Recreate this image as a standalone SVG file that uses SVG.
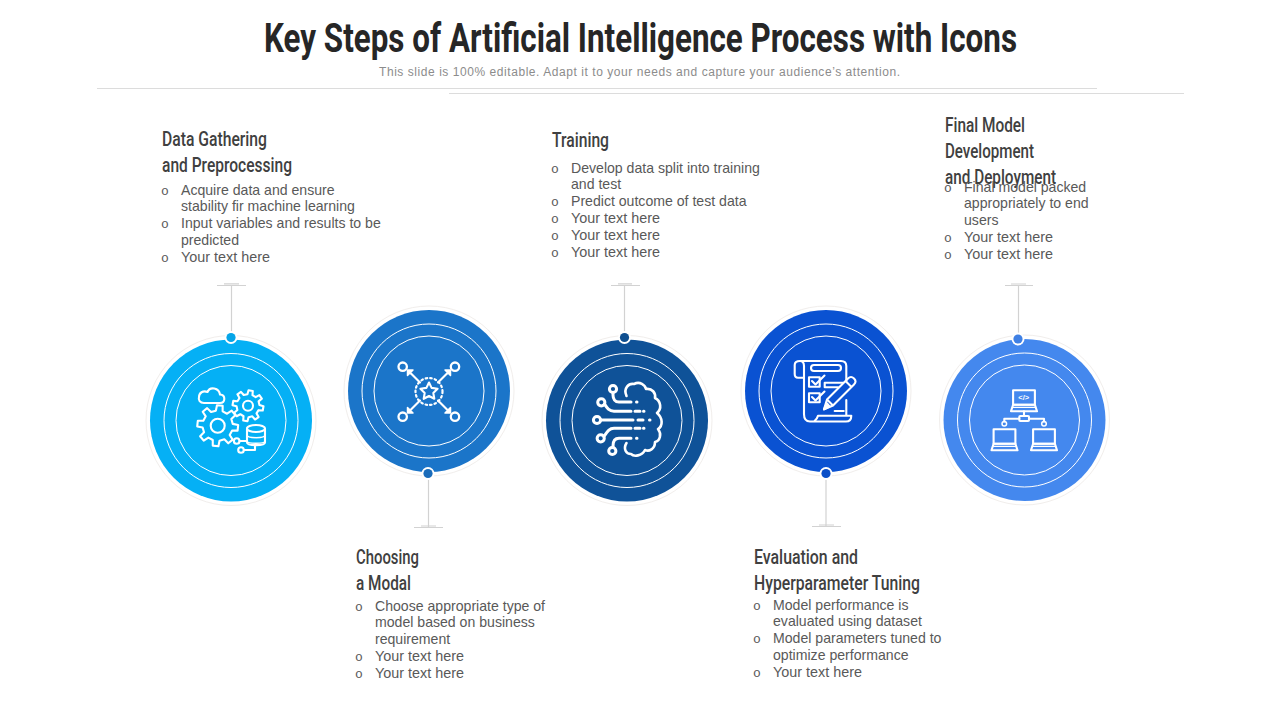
<svg xmlns="http://www.w3.org/2000/svg" width="1280" height="720" viewBox="0 0 1280 720">
<style>
text{font-family:"Liberation Sans",Arial,sans-serif}
.title{font-family:"Roboto","Liberation Sans",sans-serif;font-weight:700;font-size:41px;fill:#262626}
.sub{font-size:12px;fill:#8c8c8c}
.h{font-family:"Roboto","Liberation Sans",sans-serif;font-weight:500;font-size:20px;fill:#404040}
.b{font-size:14.1px;fill:#595959}
.y{font-size:14.4px;fill:#595959}
.o{font-family:"Liberation Mono",monospace;font-size:13px;fill:#595959}
.halo{fill:#fff;stroke:#f1eeec;stroke-width:1}
.ring{fill:none;stroke:#fff;stroke-width:1}
.ic{fill:none;stroke:#fff;stroke-width:2.100;stroke-linejoin:round;stroke-linecap:round}
.ic3{fill:none;stroke:#fff;stroke-width:3;stroke-linejoin:round;stroke-linecap:round}
.rule{stroke:#dcdcdc;stroke-width:1.200;fill:none}
.con{stroke:#d2d2d2;stroke-width:1.200;fill:none}
.dothalo{fill:#fff}
</style>
<defs>
<polygon id="gear" vector-effect="non-scaling-stroke" points=".721,-.166 .99,-.139 .99,.139 .721,.166 .628,.392 .799,.602 .602,.799 .392,.628 .166,.721 .139,.99 -.139,.99 -.166,.721 -.392,.628 -.602,.799 -.799,.602 -.628,.392 -.721,.166 -.99,.139 -.99,-.139 -.721,-.166 -.628,-.392 -.799,-.602 -.602,-.799 -.392,-.628 -.166,-.721 -.139,-.99 .139,-.99 .166,-.721 .392,-.628 .602,-.799 .799,-.602 .628,-.392"/>
<g id="laptop"><path d="M1.600 0H23.400V14.400H1.600Z"/><path d="M1.600 14.400H23.400L25.500 21H-.5Z"/><path d="M1.600 17H23.400" stroke-width="1.200"/></g>
<g id="arr"><path d="M0 0L-9 -9"/><path d="M-7 -12.500L-12.500 -12.500L-12.500 -7Z" fill="#fff" stroke-width="1.500"/></g>
</defs>

<rect width="1280" height="720" fill="#fff"/>

<g id="header">
<text class="title" x="264" y="52" textLength="753" lengthAdjust="spacingAndGlyphs">Key Steps of Artificial Intelligence Process with Icons</text>
<text class="sub" x="379" y="76" textLength="521" lengthAdjust="spacing">This slide is 100% editable. Adapt it to your needs and capture your audience’s attention.</text>
<path class="rule" d="M97 88.500H1097M449 93.500H1184"/>
</g>

<g id="connectors">
<path class="con" d="M231.500 285V334M217 285.500H246M224 283.800H239"/>
<path class="con" d="M428.500 478V527M414 527.500H443M421 526H436"/>
<path class="con" d="M624.500 285V334M611 285.500H640M618 283.800H632"/>
<path class="con" d="M826 478V526M812 526.500H841M819 525H834"/>
<path class="con" d="M1018.500 285V335M1005 285.500H1033M1011 284H1026"/>
</g>

<g id="node1">
<circle class="halo" cx="231" cy="420.500" r="85"/>
<circle cx="231" cy="420.500" r="81" fill="#05b0f5"/>
<circle class="ring" cx="231" cy="420.500" r="67"/><circle class="ring" cx="231" cy="420.500" r="55"/>
<circle class="dothalo" cx="231" cy="337.500" r="6.500"/><circle cx="231" cy="337.500" r="4.600" fill="#05a5e8"/>
<g class="ic">
<path d="M204 403H220C225.500 403 226 395 220 394.500C219 388 210 386 207.500 392C203 390 199 393 199 397C198 400 200 403 204 403Z"/>
<use href="#gear" transform="translate(217.700 425.700) scale(20.500) rotate(6)"/>
<circle cx="217.700" cy="425.700" r="7"/>
<use href="#gear" transform="translate(248 405.700) scale(15.500) rotate(10)"/>
<circle cx="248" cy="405.700" r="5"/>
<path d="M247 428.500V442.500C247 446 265 446 265 442.500V428.500"/>
<ellipse cx="256" cy="428.500" rx="9" ry="3.500"/>
<path d="M247 435C247 438.500 265 438.500 265 435M247 441C247 444 265 444 265 441" stroke-width="1.500"/>
<circle cx="236.700" cy="441" r="2.800"/><circle cx="241" cy="450" r="2.800"/>
<path d="M239.500 441H247M243.800 450H255V445.500"/>
</g>
<text class="h" x="162" y="146" textLength="105" lengthAdjust="spacingAndGlyphs">Data Gathering</text>
<text class="h" x="162" y="172" textLength="130" lengthAdjust="spacingAndGlyphs">and Preprocessing</text>
<text class="o" x="161" y="195">o</text><text class="b" x="181" y="195">Acquire data and ensure</text>
<text class="b" x="181" y="211">stability fir machine learning</text>
<text class="o" x="161" y="228">o</text><text class="b" x="181" y="228">Input variables and results to be</text>
<text class="b" x="181" y="245">predicted</text>
<text class="o" x="161" y="262">o</text><text class="y" x="181" y="262">Your text here</text>
</g>

<g id="node2">
<circle class="halo" cx="429" cy="391" r="85"/>
<circle cx="429" cy="391" r="81" fill="#1b75c9"/>
<circle class="ring" cx="429" cy="391" r="67"/><circle class="ring" cx="429" cy="391" r="55"/>
<circle class="dothalo" cx="428" cy="473.500" r="6.500"/><circle cx="428" cy="473.500" r="4.600" fill="#1a6cba"/>
<g class="ic">
<circle cx="429" cy="391.500" r="13.500" stroke-dasharray="1.600 3" stroke-width="2.200"/>
<path d="M429 382.500L431.600 387.900L437.600 388.700L433.300 392.900L434.300 398.800L429 396L423.700 398.800L424.700 392.900L420.400 388.700L426.400 387.900Z"/>
<circle cx="402.700" cy="366.700" r="4.200" stroke-width="2.300"/><circle cx="455" cy="366.700" r="4.200" stroke-width="2.300"/>
<circle cx="402.700" cy="416.700" r="4.200" stroke-width="2.300"/><circle cx="455" cy="416.700" r="4.200" stroke-width="2.300"/>
<use href="#arr" transform="translate(420 382.500)"/>
<use href="#arr" transform="translate(438 382.500) rotate(90)"/>
<use href="#arr" transform="translate(438 400.500) rotate(180)"/>
<use href="#arr" transform="translate(420 400.500) rotate(270)"/>
</g>
<text class="h" x="356" y="564" textLength="63" lengthAdjust="spacingAndGlyphs">Choosing</text>
<text class="h" x="356" y="590" textLength="55" lengthAdjust="spacingAndGlyphs">a Modal</text>
<text class="o" x="355" y="611">o</text><text class="b" x="375" y="611">Choose appropriate type of</text>
<text class="b" x="375" y="627">model based on business</text>
<text class="b" x="375" y="644">requirement</text>
<text class="o" x="355" y="661">o</text><text class="y" x="375" y="661">Your text here</text>
<text class="o" x="355" y="678">o</text><text class="y" x="375" y="678">Your text here</text>
</g>

<g id="node3">
<circle class="halo" cx="627" cy="420.500" r="85"/>
<circle cx="627" cy="420.500" r="81" fill="#0f5298"/>
<circle class="ring" cx="627" cy="420.500" r="67"/><circle class="ring" cx="627" cy="420.500" r="55"/>
<circle class="dothalo" cx="624.500" cy="337.500" r="6.500"/><circle cx="624.500" cy="337.500" r="4.600" fill="#0f4f90"/>
<g class="ic3">
<circle cx="613" cy="389" r="3.600"/><circle cx="601.300" cy="402.300" r="3.600"/><circle cx="597" cy="420" r="3.600"/><circle cx="600.700" cy="438.300" r="3.600"/><circle cx="612.300" cy="451" r="3.600"/>
<path d="M613 392.600V395C613 399 615 402 619 402H631"/>
<path d="M604.500 404C607 408 609 411.300 614 411.300H631M635 411.300H640M643.500 411.300H644"/>
<path d="M600.600 420H633M638 420H643M649.500 420H650"/>
<path d="M604 436.500C607 432 609 428.300 614 428.300H631M635 428.300H640M643.500 428.300H644"/>
<path d="M613 447.500V446C613 441 615 438.300 619 438.300H631"/>
<path d="M636.500 402H637M636.500 438.300H637"/>
<path d="M626.500 396C623 388 629 383 634 384C640 381 645 385 646 389C652 388 656 393 655 398C661 401 662 409 657 413C663 418 663 426 658 429C662 434 660 441 655 442C655 449 649 452 645 450C642 456 634 457 631 454C626 454 623 449 626.500 443" stroke-width="2.600"/>
</g>
<text class="h" x="552" y="147" textLength="57" lengthAdjust="spacingAndGlyphs">Training</text>
<text class="o" x="551" y="173">o</text><text class="b" x="571" y="173">Develop data split into training</text>
<text class="b" x="571" y="189">and test</text>
<text class="o" x="551" y="206">o</text><text class="b" x="571" y="206">Predict outcome of test data</text>
<text class="o" x="551" y="223">o</text><text class="y" x="571" y="223">Your text here</text>
<text class="o" x="551" y="240">o</text><text class="y" x="571" y="240">Your text here</text>
<text class="o" x="551" y="257">o</text><text class="y" x="571" y="257">Your text here</text>
</g>

<g id="node4">
<circle class="halo" cx="826" cy="391" r="85"/>
<circle cx="826" cy="391" r="81" fill="#0a52d2"/>
<circle class="ring" cx="826" cy="391" r="67"/><circle class="ring" cx="826" cy="391" r="55"/>
<circle class="dothalo" cx="826" cy="473.500" r="6.500"/><circle cx="826" cy="473.500" r="4.600" fill="#0a4fc8"/>
<g class="ic">
<path d="M804 377.700H798C795.500 377.700 794.700 376 794.700 374V365C794.700 362.500 797 361 800 361H841C844.500 361 846.300 363 846.300 366V381.500M800 361C803 361 804 363 804 366V414C804 419 806 421.500 810 421.500H846C849.500 421.500 851.300 419 851.300 415.700H818C817.500 418 816 420 814 421.500M846.300 400V415"/>
<rect x="811" y="365" width="30" height="6" rx="3"/>
<rect x="809" y="377.300" width="10.700" height="9.400"/>
<path d="M812 381L815.500 384.500L824.500 375.500"/>
<rect x="809" y="393.300" width="10.700" height="9"/>
<path d="M812 397L815.500 400.500L824.500 391.500"/>
<path d="M838 387.300H824.700V382.700H843"/>
<path d="M824 409.300L827 399.500L848 378.500Q851 375.500 854 378.500Q857 381.500 854 384.500L833 405.500ZM827 399.500L833 405.500M845.500 381L851.500 387"/>
<path d="M824 409.300L827 403.500L829.500 406.500Z" fill="#fff"/>
<path d="M834.700 411H843.700"/>
</g>
<text class="h" x="754" y="564" textLength="104" lengthAdjust="spacingAndGlyphs">Evaluation and</text>
<text class="h" x="754" y="590" textLength="166" lengthAdjust="spacingAndGlyphs">Hyperparameter Tuning</text>
<text class="o" x="753" y="610">o</text><text class="b" x="773" y="610">Model performance is</text>
<text class="b" x="773" y="626">evaluated using dataset</text>
<text class="o" x="753" y="643">o</text><text class="b" x="773" y="643">Model parameters tuned to</text>
<text class="b" x="773" y="660">optimize performance</text>
<text class="o" x="753" y="677">o</text><text class="y" x="773" y="677">Your text here</text>
</g>

<g id="node5">
<circle class="halo" cx="1024.500" cy="420" r="85"/>
<circle cx="1024.500" cy="420" r="81" fill="#4488ee"/>
<circle class="ring" cx="1024.500" cy="420" r="67"/><circle class="ring" cx="1024.500" cy="420" r="55"/>
<circle class="dothalo" cx="1018" cy="339" r="6.500"/><circle cx="1018" cy="339" r="4.600" fill="#3f80e4"/>
<g class="ic">
<use href="#laptop" transform="translate(1011.500 390.300)"/>
<use href="#laptop" transform="translate(992 429.300)"/>
<use href="#laptop" transform="translate(1031.500 429.300)"/>
<path d="M1024 411.300V416M1019.300 418.700H1004.300V421.400M1029 418.700H1044V421.400"/>
<rect x="1019.300" y="416" width="9.700" height="5" rx="1"/>
<circle cx="1004.300" cy="423.700" r="2.300" stroke-width="1.500"/><circle cx="1044" cy="423.700" r="2.300" stroke-width="1.500"/>
</g>
<text x="1023.700" y="399.500" text-anchor="middle" font-size="7.500" font-weight="700" fill="#fff">&lt;/&gt;</text>
<text class="h" x="945" y="132" textLength="80" lengthAdjust="spacingAndGlyphs">Final Model</text>
<text class="h" x="945" y="158" textLength="89" lengthAdjust="spacingAndGlyphs">Development</text>
<text class="h" x="945" y="184" textLength="111" lengthAdjust="spacingAndGlyphs">and Deployment</text>
<text class="o" x="944" y="192">o</text><text class="b" x="964" y="192">Final model packed</text>
<text class="b" x="964" y="208">appropriately to end</text>
<text class="b" x="964" y="225">users</text>
<text class="o" x="944" y="242">o</text><text class="y" x="964" y="242">Your text here</text>
<text class="o" x="944" y="259">o</text><text class="y" x="964" y="259">Your text here</text>
</g>
</svg>
